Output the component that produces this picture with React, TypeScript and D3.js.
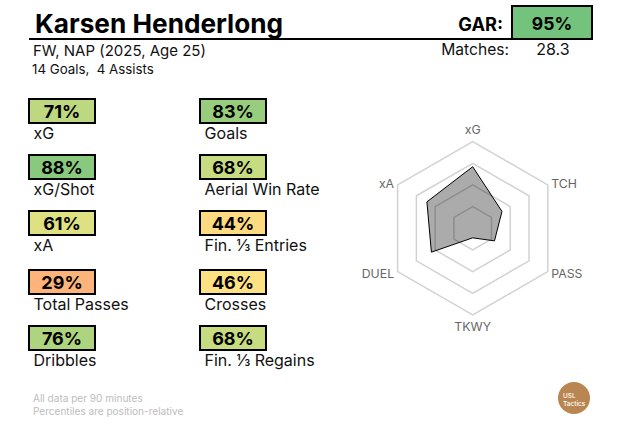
import * as d3 from "d3";

const playerName = "Karsen Henderlong";
const playerInfo = "FW, NAP (2025, Age 25)";
const playerTotals = "14 Goals,  4 Assists";
const garValue = 95;
const matchesPlayed = "28.3";
const footnotes = ["All data per 90 minutes", "Percentiles are position-relative"];

const leftLabels = ["xG", "xG/Shot", "xA", "Total Passes", "Dribbles"];
const leftValues = [71, 88, 61, 29, 76];
const rightLabels = ["Goals", "Aerial Win Rate", "Fin. ⅓ Entries", "Crosses", "Fin. ⅓ Regains"];
const rightValues = [83, 68, 44, 46, 68];

const radarAxes = ["xG", "TCH", "PASS", "TKWY", "DUEL", "xA"];
const radarValues = [71, 39, 29, 11, 55, 61];
const radarRings = [25, 50, 75, 100];

const width = 639;
const height = 433;
const font = "Inter, sans-serif";

// excel style red-yellow-green
const color = d3
  .scaleLinear<string>()
  .domain([0, 50, 100])
  .range(["#F8696B", "#FFEB84", "#63BE7B"]);

// the gap before row 3 is a bit wider in the original
const rowY = d3.scaleLinear().domain([0, 2, 3, 4]).range([99, 211, 270, 326]);

const radarCx = 472.7;
const radarCy = 228.3;
const rScale = d3.scaleLinear().domain([0, 100]).range([0, 86.7]);
const angle = d3
  .scalePoint<string>()
  .domain(radarAxes)
  .range([0, (2 * Math.PI * 5) / 6]);

const radarLine = d3
  .lineRadial<number>()
  .angle((_, i) => angle(radarAxes[i]) ?? 0)
  .radius((d) => rScale(d))
  .curve(d3.curveLinearClosed);

function StatColumn({ x, labels, values }: { x: number; labels: string[]; values: number[] }) {
  return (
    <g>
      {values.map((v, i) => (
        <g key={labels[i]} transform={`translate(${x},${rowY(i)})`}>
          <rect x={0} y={0} width={66} height={24} fill={color(v)} stroke="#000" strokeWidth={2} />
          <text x={33} y={19} textAnchor="middle" fontSize={18} fontWeight={700} fill="#000">
            {v}%
          </text>
          <text x={4.5} y={39.7} fontSize={16} fill="#111">
            {labels[i]}
          </text>
        </g>
      ))}
    </g>
  );
}

// labels sit outside the ring, side ones anchored on the hexagon corner
function radarLabelProps(i: number) {
  const a = (angle(radarAxes[i]) ?? 0) - Math.PI / 2;
  const vx = Math.cos(a) * rScale(100);
  const vy = Math.sin(a) * rScale(100);
  if (Math.abs(vx) < 1) {
    return { x: radarCx, y: radarCy + vy + (vy < 0 ? -11 : 12.5), textAnchor: "middle" };
  }
  return {
    x: radarCx + vx + Math.sign(vx) * 3.5,
    y: radarCy + vy + (vy < 0 ? 0 : 2.5),
    textAnchor: vx > 0 ? "start" : "end",
  };
}

export default function App() {
  return (
    <svg
      width={width}
      height={height}
      viewBox={`0 0 ${width} ${height}`}
      style={{ position: "absolute", left: 0, top: 0, background: "#fff" }}
      fontFamily={font}
    >
      {/* header */}
      <text x={35} y={33} fontSize={26.2} fontWeight={700} fill="#000">
        {playerName}
      </text>
      <line x1={29} x2={592} y1={39} y2={39} stroke="#000" strokeWidth={2} />
      <text x={33} y={56} fontSize={15} fill="#111">
        {playerInfo}
      </text>
      <text x={32} y={73.5} fontSize={13.3} fill="#111" xmlSpace="preserve" style={{ whiteSpace: "pre" }}>
        {playerTotals}
      </text>

      <text x={503} y={31} textAnchor="end" fontSize={18.2} fontWeight={700} fill="#000">
        GAR:
      </text>
      <rect x={512} y={6} width={80} height={33} fill={color(garValue)} stroke="#000" strokeWidth={2} />
      <text x={552} y={30} textAnchor="middle" fontSize={17.5} fontWeight={700} fill="#000">
        {garValue}%
      </text>
      <text x={509} y={55} textAnchor="end" fontSize={15.6} fill="#111">
        Matches:
      </text>
      <text x={553} y={55} textAnchor="middle" fontSize={16} fill="#111">
        {matchesPlayed}
      </text>

      <StatColumn x={29} labels={leftLabels} values={leftValues} />
      <StatColumn x={200} labels={rightLabels} values={rightValues} />

      {/* radar */}
      <g transform={`translate(${radarCx},${radarCy})`}>
        {radarRings.map((ring) => (
          <path
            key={ring}
            d={radarLine(radarAxes.map(() => ring)) ?? ""}
            fill="none"
            stroke="#d2d2d2"
            strokeWidth={1.5}
          />
        ))}
        <path
          d={radarLine(radarValues) ?? ""}
          fill="#000"
          fillOpacity={0.33}
          stroke="#000"
          strokeWidth={1}
        />
      </g>
      {radarAxes.map((name, i) => (
        <text
          key={name}
          {...radarLabelProps(i)}
          dominantBaseline="middle"
          fontSize={12.3}
          fill="#666"
        >
          {name}
        </text>
      ))}

      {/* footer */}
      {footnotes.map((t, i) => (
        <text key={t} x={33} y={402 + i * 12.5} fontSize={10.05} fill="#bdbdbd">
          {t}
        </text>
      ))}
      <circle cx={574} cy={398} r={16} fill="#B98550" />
      <text x={563} y={397.5} fontSize={6.5} fontWeight={500} fill="#fff">
        USL
      </text>
      <text x={563} y={405.5} fontSize={6.5} fontWeight={500} fill="#fff">
        Tactics
      </text>
    </svg>
  );
}
